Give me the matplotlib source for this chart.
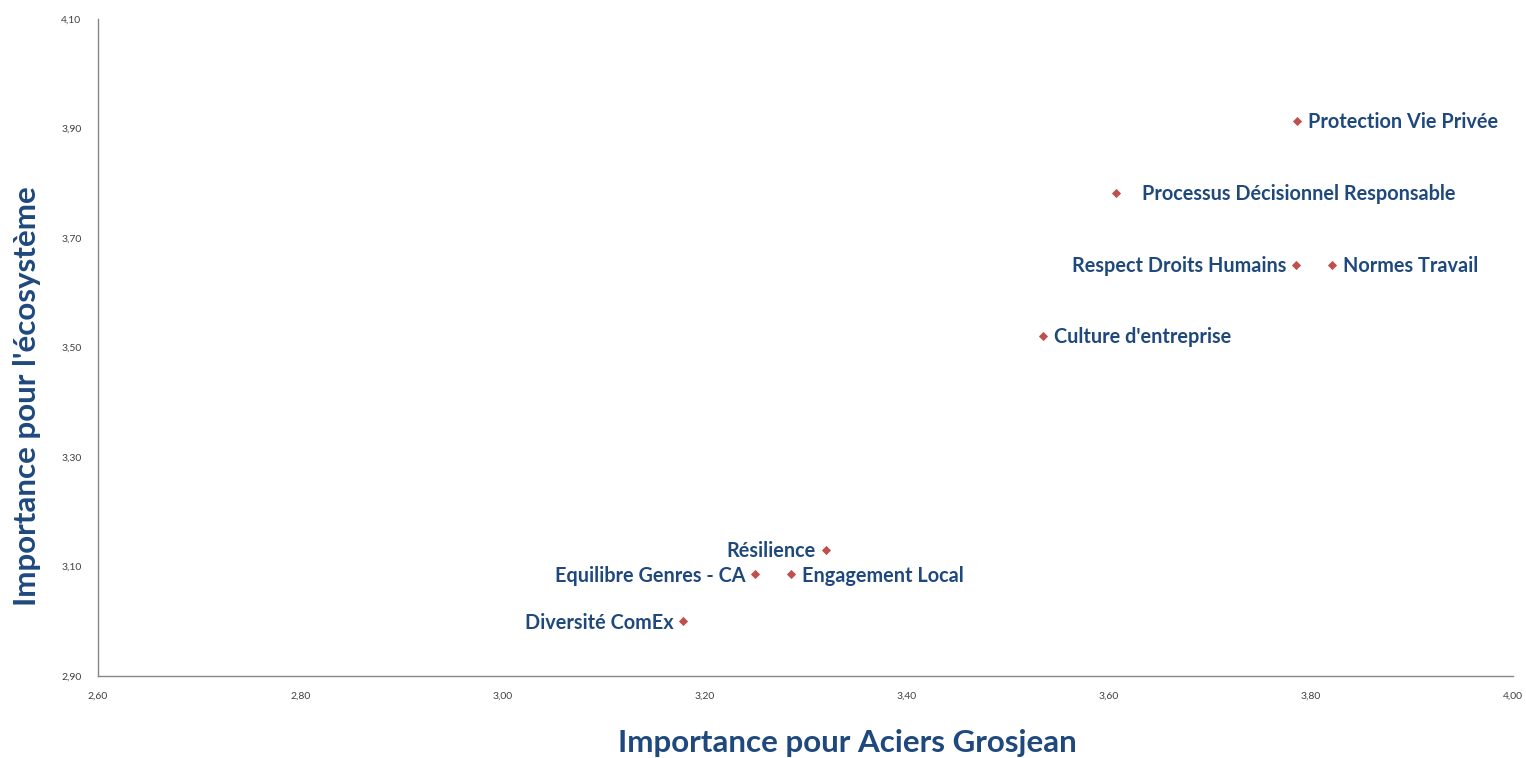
import matplotlib.pyplot as plt
from matplotlib.ticker import FuncFormatter

# data
labels = ['Protection Vie Privée', 'Processus Décisionnel Responsable', 'Respect Droits Humains',
          'Normes Travail', "Culture d'entreprise", 'Résilience', 'Equilibre Genres - CA',
          'Engagement Local', 'Diversité ComEx']
x_vals = [3.786, 3.607, 3.785, 3.821, 3.535, 3.320, 3.250, 3.286, 3.179]
y_vals = [3.914, 3.782, 3.651, 3.651, 3.521, 3.130, 3.086, 3.086, 3.000]
# which side the label goes: 1 = right, -1 = left
sides = [1, 1, -1, 1, 1, -1, -1, 1, -1]
x_ticks = [2.6, 2.8, 3.0, 3.2, 3.4, 3.6, 3.8, 4.0]
y_ticks = [2.9, 3.1, 3.3, 3.5, 3.7, 3.9, 4.1]

plt.rcParams['font.family'] = ['Lato', 'DejaVu Sans']

fig = plt.figure(figsize=(15.26, 7.58), dpi=100)
ax = fig.add_axes([0.0642, 0.1082, 0.9273, 0.8668])

ax.scatter(x_vals, y_vals, marker='D', s=22, color='#C0504D', zorder=3, linewidths=0)

for i, lab in enumerate(labels):
    dx = 8 if sides[i] > 0 else -7
    if lab.startswith('Processus'):
        dx = 19
    ax.annotate(lab, (x_vals[i], y_vals[i]), xytext=(dx, -1), textcoords='offset points',
                ha='left' if sides[i] > 0 else 'right', va='center',
                fontsize=14.3, fontweight='bold', color='#1F497D')

ax.set_xlim(2.6, 4.0)
ax.set_ylim(2.9, 4.1)
ax.set_xticks(x_ticks)
ax.set_yticks(y_ticks)
fmt = FuncFormatter(lambda v, p: '{:.2f}'.format(v).replace('.', ','))
ax.xaxis.set_major_formatter(fmt)
ax.yaxis.set_major_formatter(fmt)
ax.tick_params(length=0, labelsize=7.5, colors='#404040')
ax.tick_params(axis='x', pad=11)
ax.tick_params(axis='y', pad=12)

for s in ['top', 'right']:
    ax.spines[s].set_visible(False)
for s in ['left', 'bottom']:
    ax.spines[s].set_color('#868686')
    ax.spines[s].set_linewidth(1.0)

ax.set_xlabel('Importance pour Aciers Grosjean', fontsize=22.6, fontweight='bold',
              color='#1F497D')
ax.set_ylabel("Importance pour l'écosystème", fontsize=22.6, fontweight='bold',
              color='#1F497D')
ax.xaxis.set_label_coords(847 / 1526, 1 - 743 / 758, transform=fig.transFigure)
ax.yaxis.set_label_coords(27 / 1526, 1 - 396 / 758, transform=fig.transFigure)
ax.xaxis.label.set_va('center')
ax.yaxis.label.set_va('center')

fig.savefig('out.png', dpi=100)
